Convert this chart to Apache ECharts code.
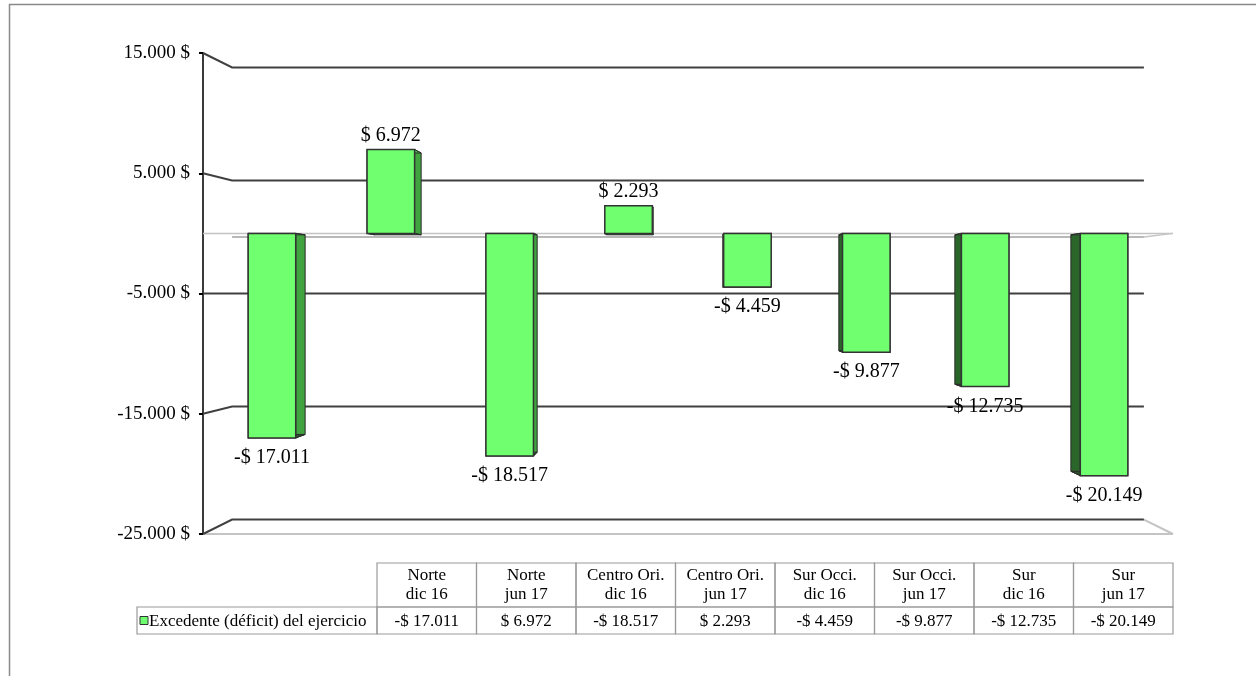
<!DOCTYPE html>
<html><head><meta charset="utf-8">
<script src="https://cdn.jsdelivr.net/npm/echarts@6/dist/echarts.min.js"></script>
<style>html,body{margin:0;padding:0;background:#fff}#c{width:1256px;height:676px}</style>
</head><body><div id="c"></div>
<script>
// ---- data ----
const categoryRegion = ['Norte', 'Norte', 'Centro Ori.', 'Centro Ori.', 'Sur Occi.', 'Sur Occi.', 'Sur', 'Sur'];
const categoryPeriod = ['dic 16', 'jun 17', 'dic 16', 'jun 17', 'dic 16', 'jun 17', 'dic 16', 'jun 17'];
const seriesName = 'Excedente (déficit) del ejercicio';
const values = [-17011, 6972, -18517, 2293, -4459, -9877, -12735, -20149];
const yTicks = [-25000, -15000, -5000, 5000, 15000];
const yMin = -25000, yMax = 15000, yStep = 10000;

// ---- layout/style ----
const FONT = '"Liberation Serif", "Times New Roman", serif';
const FS_AXIS = 19, FS_LABEL = 20, FS_TABLE = 17;
const G0 = {left: 203, right: 83, top: 53, bottom: 142};       // front axis plane
const G1 = {left: 212.5, right: 92.5, top: 53, bottom: 142};   // bars
const W = 1256, H = 676;
const VX = (G0.left + (W - G0.right)) / 2;
const VY = (G0.top + (H - G0.bottom)) / 2;
const WALL_S = 0.94;   // back-wall perspective scale
const BAR_K = 0.024;   // bar depth factor

function thousands(n) {
  return String(Math.abs(Math.round(n))).replace(/\B(?=(\d{3})+(?!\d))/g, '.');
}
function fmtMoney(v) { return (v < 0 ? '-' : '') + '$ ' + thousands(v); }
function fmtAxis(v) { return (v < 0 ? '-' : '') + thousands(v) + ' $'; }

const chart = echarts.init(document.getElementById('c'), null, {renderer: 'canvas'});

function renderBar(params, api) {
  const xi = api.value(0), v = api.value(1);
  const p0 = api.coord([xi, 0]);
  const p1 = api.coord([xi, v]);
  const bw = api.size([1, 0])[0] * 0.40;
  const x1 = p0[0] - bw / 2, x2 = p0[0] + bw / 2;
  const yT = Math.min(p0[1], p1[1]), yB = Math.max(p0[1], p1[1]);
  const f = (x, y) => [x + (VX - x) * BAR_K, y + (VY - y) * BAR_K];
  const stroke = '#2a2a2a';
  const quad = (pts, fill) => ({type: 'polygon', shape: {points: pts},
    style: {fill: fill, stroke: stroke, lineWidth: 1}});
  const children = [
    quad([[x1, yT], [x1, yB], f(x1, yB), f(x1, yT)], '#2a662a'),
    quad([[x2, yT], [x2, yB], f(x2, yB), f(x2, yT)], '#40a340'),
    quad([[x1, yT], [x2, yT], f(x2, yT), f(x1, yT)], '#4cc04c'),
    quad([[x1, yB], [x2, yB], f(x2, yB), f(x1, yB)], '#2c4f2c'),
    {type: 'rect', shape: {x: x1, y: yT, width: bw, height: yB - yT},
      style: {fill: '#6fff6f', stroke: '#333', lineWidth: 1.5}},
    {type: 'text', style: {
      text: fmtMoney(v), x: p0[0],
      y: v >= 0 ? yT - 4 : yB + 10,
      align: 'center', verticalAlign: v >= 0 ? 'bottom' : 'top',
      font: FS_LABEL + 'px ' + FONT, fill: '#000'}}
  ];
  return {type: 'group', children: children};
}

const catNames = categoryRegion.map((r, i) => r + ' ' + categoryPeriod[i]);
const option = {
  animation: false,
  backgroundColor: '#fff',
  grid: [Object.assign({}, G0), Object.assign({}, G1)],
  xAxis: [
    {gridIndex: 0, type: 'category', data: catNames, show: false},
    {gridIndex: 1, type: 'category', data: catNames, show: false}
  ],
  yAxis: [
    {gridIndex: 0, type: 'value', min: yMin, max: yMax, interval: yStep,
      axisLine: {show: true, lineStyle: {color: '#3a3a3a', width: 2}},
      axisTick: {show: true, inside: false, length: 4, lineStyle: {color: '#000', width: 2}},
      axisLabel: {formatter: fmtAxis, fontFamily: FONT, fontSize: FS_AXIS, color: '#000', margin: 13},
      splitLine: {show: false}},
    {gridIndex: 1, type: 'value', min: yMin, max: yMax, interval: yStep, show: false, splitLine: {show: false}}
  ],
  series: [{
    type: 'custom', name: seriesName, xAxisIndex: 1, yAxisIndex: 1, z: 5,
    renderItem: renderBar,
    data: values.map((v, i) => [i, v])
  }]
};
chart.setOption(option);

// ---- walls, floor, table drawn from axis scale ----
const L = G0.left, R = W - G0.right;
const back = (x, y) => [VX + (x - VX) * WALL_S, VY + (y - VY) * WALL_S];
const yPix = v => chart.convertToPixel({yAxisIndex: 0}, v);
const g = [];
const line = (pts, color, w, z) => ({type: 'polyline', z: z || 1, shape: {points: pts},
  style: {stroke: color, lineWidth: w, fill: null}});

// zero floor
const y0 = yPix(0);
g.push(line([[L, y0], [R, y0]], '#c4c4c4', 1.5));
g.push(line([back(L, y0), back(R, y0)], '#a0a0a0', 1.5));
g.push(line([back(R, y0), [R, y0]], '#c4c4c4', 1.5));

yTicks.forEach(v => {
  const y = yPix(v);
  if (v === yMin) {
    g.push(line([[L, y], [R, y]], '#c4c4c4', 2));
    g.push(line([back(R, y), [R, y]], '#c4c4c4', 2));
  }
  g.push(line([[L, y], back(L, y), back(R, y)], '#404040', 2));
});

// data table
const tX = 377, colW = 99.5, tTop = 563, headH = 44, rowH = 27, legL = 137;
const border = '#9a9a9a';
const tf = FS_TABLE + 'px ' + FONT;
categoryRegion.forEach((r, i) => {
  const x = tX + i * colW;
  g.push({type: 'rect', z: 1, shape: {x: x, y: tTop, width: colW, height: headH},
    style: {fill: 'none', stroke: border, lineWidth: 1.2}});
  g.push({type: 'rect', z: 1, shape: {x: x, y: tTop + headH, width: colW, height: rowH},
    style: {fill: 'none', stroke: border, lineWidth: 1.2}});
  g.push({type: 'text', z: 2, style: {text: r + '\n' + categoryPeriod[i], x: x + colW / 2, y: tTop + headH / 2,
    align: 'center', verticalAlign: 'middle', font: tf, lineHeight: 19, fill: '#000'}});
  g.push({type: 'text', z: 2, style: {text: fmtMoney(values[i]), x: x + colW / 2, y: tTop + headH + rowH / 2 + 1,
    align: 'center', verticalAlign: 'middle', font: tf, fill: '#000'}});
});
g.push({type: 'rect', z: 1, shape: {x: legL, y: tTop + headH, width: tX - legL, height: rowH},
  style: {fill: 'none', stroke: border, lineWidth: 1.2}});
g.push({type: 'rect', z: 2, shape: {x: legL + 3, y: tTop + headH + rowH / 2 - 4, width: 8, height: 8},
  style: {fill: '#6fff6f', stroke: '#333', lineWidth: 1}});
g.push({type: 'text', z: 2, style: {text: seriesName, x: legL + 12, y: tTop + headH + rowH / 2 + 1,
  align: 'left', verticalAlign: 'middle', font: tf, fill: '#000'}});

// outer chart border
g.push(line([[9.5, H], [9.5, 4.5], [W, 4.5]], '#8a8a8a', 1.5));

chart.setOption({graphic: {elements: g}});
</script>
</body></html>
